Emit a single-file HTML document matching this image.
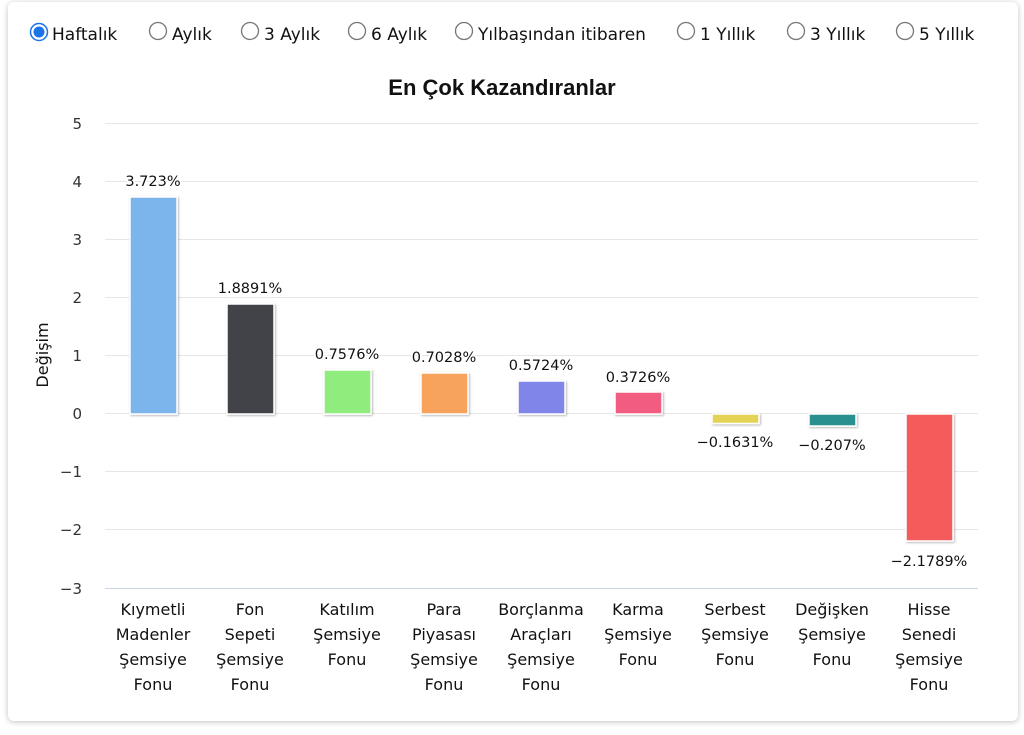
<!DOCTYPE html>
<html><head><meta charset="utf-8"><style>
body{margin:0;background:#fff;width:1024px;height:735px;overflow:hidden;font-family:"Liberation Sans","DejaVu Sans",sans-serif}
.card{position:absolute;left:8px;top:2px;width:1010px;height:719px;border-radius:6px;box-shadow:0 1px 6px rgba(0,0,0,.25);background:#fff}
</style></head><body>
<div class="card"></div>
<svg width="1024" height="735" style="position:absolute;left:0;top:0" font-family="'DejaVu Sans',sans-serif">
<defs><filter id="s" x="-20%" y="-20%" width="140%" height="140%"><feDropShadow dx="1" dy="1" stdDeviation="1" flood-opacity="0.3"/></filter></defs>
<g font-size="17" fill="#111">
<circle cx="39" cy="32" r="8.5" fill="#fff" stroke="#1a73e8" stroke-width="1.5"/><circle cx="39" cy="32" r="5.5" fill="#1a73e8"/>
<text x="52" y="40">Haftalık</text>
<circle cx="158" cy="31" r="8.5" fill="#fff" stroke="#777" stroke-width="1.3"/><text x="172" y="40">Aylık</text>
<circle cx="250" cy="31" r="8.5" fill="#fff" stroke="#777" stroke-width="1.3"/><text x="264" y="40">3 Aylık</text>
<circle cx="357" cy="31" r="8.5" fill="#fff" stroke="#777" stroke-width="1.3"/><text x="371" y="40">6 Aylık</text>
<circle cx="464" cy="31" r="8.5" fill="#fff" stroke="#777" stroke-width="1.3"/><text x="478" y="40">Yılbaşından itibaren</text>
<circle cx="686" cy="31" r="8.5" fill="#fff" stroke="#777" stroke-width="1.3"/><text x="700" y="40">1 Yıllık</text>
<circle cx="796" cy="31" r="8.5" fill="#fff" stroke="#777" stroke-width="1.3"/><text x="810" y="40">3 Yıllık</text>
<circle cx="905" cy="31" r="8.5" fill="#fff" stroke="#777" stroke-width="1.3"/><text x="919" y="40">5 Yıllık</text>
</g>
<text x="502" y="95" text-anchor="middle" font-family="'Liberation Sans',sans-serif" font-weight="bold" font-size="22" fill="#111">En Çok Kazandıranlar</text>
<g stroke="#e6e6e6" stroke-width="1">
<line x1="105" x2="978" y1="123.5" y2="123.5"/><line x1="105" x2="978" y1="181.5" y2="181.5"/><line x1="105" x2="978" y1="239.5" y2="239.5"/><line x1="105" x2="978" y1="297.5" y2="297.5"/><line x1="105" x2="978" y1="355.5" y2="355.5"/><line x1="105" x2="978" y1="413.5" y2="413.5"/><line x1="105" x2="978" y1="471.5" y2="471.5"/><line x1="105" x2="978" y1="529.5" y2="529.5"/>
</g>
<line x1="105" x2="978" y1="588.5" y2="588.5" stroke="#ccd6eb"/>
<g font-size="15" fill="#333" text-anchor="end">
<text x="82" y="129">5</text><text x="82" y="187">4</text><text x="82" y="245">3</text><text x="82" y="303">2</text><text x="82" y="361">1</text><text x="82" y="419">0</text><text x="82" y="477">−1</text><text x="82" y="535">−2</text><text x="82" y="594">−3</text>
</g>
<text transform="translate(48,355) rotate(-90)" text-anchor="middle" font-size="16" fill="#111">Değişim</text>
<g stroke="#fff" stroke-width="1.5" filter="url(#s)">
<rect x="130" y="197" width="47" height="217" fill="#7cb5ec"/>
<rect x="227" y="304" width="47" height="110" fill="#434348"/>
<rect x="324" y="370" width="47" height="44" fill="#90ed7d"/>
<rect x="421" y="373" width="47" height="41" fill="#f7a35c"/>
<rect x="518" y="381" width="47" height="33" fill="#8085e9"/>
<rect x="615" y="392" width="47" height="22" fill="#f15c80"/>
<rect x="712" y="414" width="47" height="9.5" fill="#e4d354"/>
<rect x="809" y="414" width="47" height="12" fill="#2b908f"/>
<rect x="906" y="414" width="47" height="127" fill="#f45b5b"/>
</g>
<g font-size="14.5" fill="#111" text-anchor="middle" stroke="#fff" stroke-width="3" paint-order="stroke">
<text x="153" y="186">3.723%</text><text x="250" y="293">1.8891%</text><text x="347" y="359">0.7576%</text><text x="444" y="362">0.7028%</text><text x="541" y="370">0.5724%</text><text x="638" y="382">0.3726%</text><text x="735" y="447">−0.1631%</text><text x="832" y="450">−0.207%</text><text x="929" y="566">−2.1789%</text>
</g>
<g font-size="16" fill="#111" text-anchor="middle">
<text x="153" y="615">Kıymetli</text><text x="153" y="640">Madenler</text><text x="153" y="665">Şemsiye</text><text x="153" y="690">Fonu</text>
<text x="250" y="615">Fon</text><text x="250" y="640">Sepeti</text><text x="250" y="665">Şemsiye</text><text x="250" y="690">Fonu</text>
<text x="347" y="615">Katılım</text><text x="347" y="640">Şemsiye</text><text x="347" y="665">Fonu</text>
<text x="444" y="615">Para</text><text x="444" y="640">Piyasası</text><text x="444" y="665">Şemsiye</text><text x="444" y="690">Fonu</text>
<text x="541" y="615">Borçlanma</text><text x="541" y="640">Araçları</text><text x="541" y="665">Şemsiye</text><text x="541" y="690">Fonu</text>
<text x="638" y="615">Karma</text><text x="638" y="640">Şemsiye</text><text x="638" y="665">Fonu</text>
<text x="735" y="615">Serbest</text><text x="735" y="640">Şemsiye</text><text x="735" y="665">Fonu</text>
<text x="832" y="615">Değişken</text><text x="832" y="640">Şemsiye</text><text x="832" y="665">Fonu</text>
<text x="929" y="615">Hisse</text><text x="929" y="640">Senedi</text><text x="929" y="665">Şemsiye</text><text x="929" y="690">Fonu</text>
</g>
</svg>
</body></html>
